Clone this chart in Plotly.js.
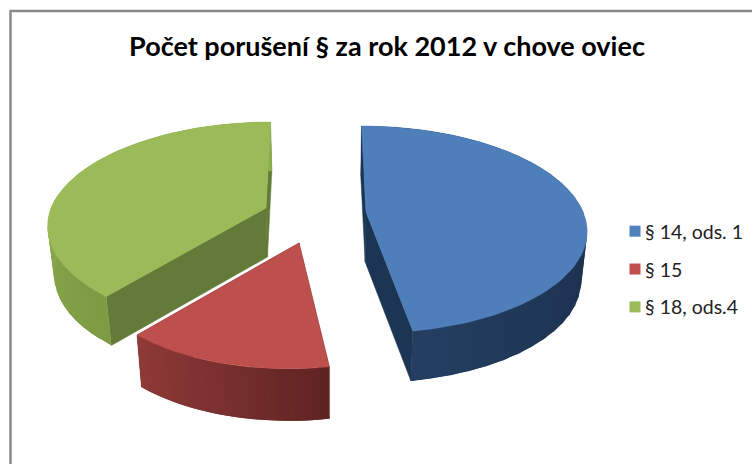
<!DOCTYPE html>
<html>
<head>
<meta charset="utf-8">
<script src="https://cdn.plot.ly/plotly-3.0.1.min.js"></script>
<style>
html,body{margin:0;padding:0;background:#fff;overflow:hidden}
.legendtext{transform:translateX(-10px)}
</style>
</head>
<body>
<div id="chart" style="width:752px;height:464px"></div>
<script>
// data
const categories = ['§ 14, ods. 1', '§ 15', '§ 18, ods.4'];
const values = [47.4, 13.7, 38.9];
const chartTitle = 'Počet porušení § za rok 2012 v chove oviec';

// styles
const faceColors = ['#4f7fba', '#bd4f4c', '#9bbb59'];
const legendColors = ['#4f81bd', '#c0504d', '#9bbb59'];
const radialWallColors = ['#1c3553', '#6b2a28', '#647a38'];
const arcWallStops = [
  [[29, 51, 80], [29, 51, 80], [29, 51, 80], [35, 62, 97]],
  [[94, 35, 34], [120, 48, 46], [143, 58, 55]],
  [[125, 155, 66], [140, 172, 80], [140, 172, 80]]
];
// projection of each exploded slice (pixel axes): apex, scale, shear
const apexX = [366, 299, 266], apexY = [212, 243, 208];
const sliceScaleX = [1.01, 0.97, 1], sliceScaleY = [1, 1.04, 1], sliceShear = [0, -9, 3];
const sliceDepth = [50, 52, 49];
const VX = 316, RX = 215, RY = 100.5, P = 0.169, PX = 0.09, SHRINK = 0.977, WALL_XC = 330;
const drawOrder = [2, 1, 0];

const total = values.reduce((a, b) => a + b, 0);
const starts = []; let acc = 0;
values.forEach(v => { starts.push(acc / total * 2 * Math.PI); acc += v; });
const ends = starts.map((s, i) => s + values[i] / total * 2 * Math.PI);

function rimPoint(i, r, th) {
  const u = r * Math.sin(th), v = -r * Math.cos(th);
  const k = 1 / (1 - P * v);
  return [VX + (apexX[i] - VX) * (1 + PX * v) + sliceScaleX[i] * RX * u * k + sliceShear[i] * Math.max(v, 0),
          apexY[i] + sliceScaleY[i] * RY * v * k];
}
function lower(i, p) { return [WALL_XC + (p[0] - WALL_XC) * SHRINK, p[1] + sliceDepth[i]]; }
function poly(pts, color, lineWidth) {
  return {
    type: 'scatter', mode: 'lines', fill: 'toself', fillcolor: color,
    x: pts.map(p => p[0]), y: pts.map(p => p[1]),
    line: {color: color, width: lineWidth}, hoverinfo: 'skip', showlegend: false
  };
}
function lerpStops(st, t) {
  const f = t * (st.length - 1), a = Math.min(Math.floor(f), st.length - 2), w = f - a;
  const c = st[a].map((x, j) => Math.round(x + (st[a + 1][j] - x) * w));
  return 'rgb(' + c.join(',') + ')';
}

const traces = [];
drawOrder.forEach(i => {
  const a0 = starts[i], a1 = ends[i];
  const apex = [apexX[i], apexY[i]];
  // radial walls
  [a0, a1].forEach(th => {
    const p = rimPoint(i, 1, th);
    traces.push(poly([apex, p, lower(i, p), lower(i, apex), apex], radialWallColors[i], 0.5));
  });
  // curved outer wall, in overlapping strips for the shading
  const N = 36;
  for (let n = 0; n < N; n++) {
    const t0 = a0 + (a1 - a0) * n / N, t1 = a0 + (a1 - a0) * Math.min(n + 2, N) / N;
    const p0 = rimPoint(i, 1, t0), p1 = rimPoint(i, 1, t1);
    traces.push(poly([p0, p1, lower(i, p1), lower(i, p0), p0], lerpStops(arcWallStops[i], (n + 0.5) / N), 0));
  }
  // top face
  const pts = [apex];
  const M = 90;
  for (let n = 0; n <= M; n++) pts.push(rimPoint(i, 1, a0 + (a1 - a0) * n / M));
  pts.push(apex);
  traces.push(poly(pts, faceColors[i], 0.5));
});
// legend entries
categories.forEach((c, i) => {
  traces.push({
    type: 'scatter', mode: 'markers', x: [null], y: [null], name: c,
    legendgroup: 'g' + i, showlegend: true,
    marker: {symbol: 'square', size: 11, color: legendColors[i]}, hoverinfo: 'skip'
  });
});

const layout = {
  width: 752, height: 464,
  margin: {l: 0, r: 0, t: 0, b: 0, autoexpand: false},
  paper_bgcolor: '#ffffff', plot_bgcolor: '#ffffff',
  title: {
    text: chartTitle, x: 387 / 752, xanchor: 'center', y: 1 - 47 / 464, yanchor: 'middle',
    font: {family: 'Lato, "Open Sans", sans-serif', size: 27, color: '#000', weight: 700}
  },
  xaxis: {range: [0, 752], visible: false, fixedrange: true},
  yaxis: {range: [464, 0], visible: false, fixedrange: true},
  showlegend: true,
  legend: {
    x: 615 / 752, xanchor: 'left', y: 1 - 212 / 464, yanchor: 'top',
    font: {family: 'Lato, "Open Sans", sans-serif', size: 19.5, color: '#222'},
    tracegroupgap: 9.5, traceorder: 'grouped', bgcolor: 'rgba(0,0,0,0)'
  },
  shapes: [{
    type: 'path', xref: 'x', yref: 'y',
    path: 'M 10.5 470 L 10.5 11 L 760 11',
    line: {color: '#8a8a8a', width: 2.5}, fillcolor: 'rgba(0,0,0,0)'
  }]
};
Plotly.newPlot('chart', traces, layout, {displayModeBar: false, staticPlot: true});
</script>
</body>
</html>
